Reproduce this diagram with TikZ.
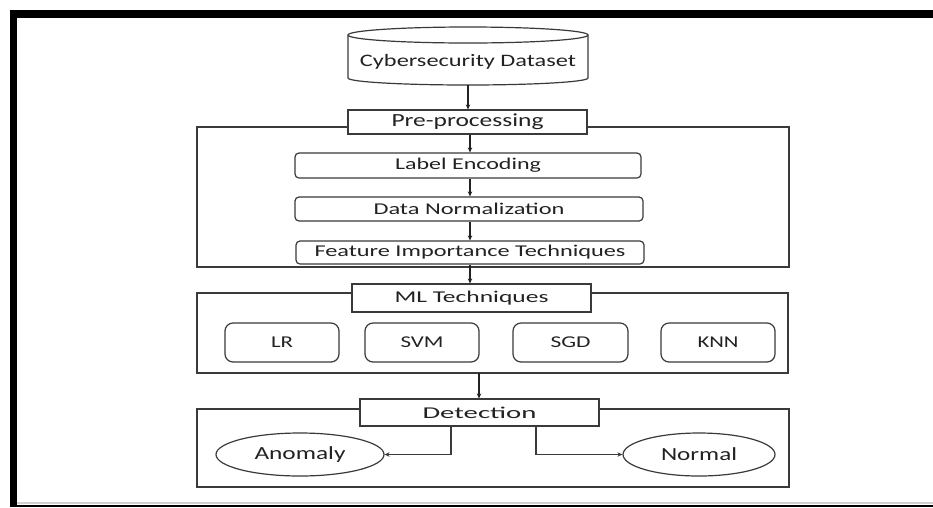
\documentclass[tikz,border=0pt]{standalone}
\usepackage{fontspec}
\setmainfont{Carlito}
\usetikzlibrary{arrows.meta,shapes.geometric}
\definecolor{ink}{HTML}{222222}
\definecolor{edge}{HTML}{3A3A3A}
% stretch a label horizontally to a given width, keeping its height
\newcommand{\fw}[2]{\resizebox{#1}{\height}{#2}}
\begin{document}
\begin{tikzpicture}[x=1pt,y=-1pt,
  box/.style={draw=edge, line width=1.2pt, fill=white, inner sep=0pt, text=ink},
  rbox/.style={box, rounded corners=4pt},
  mbox/.style={box, rounded corners=8pt},
  oval/.style={box, ellipse},
  frame/.style={draw=edge, line width=1.2pt},
  arr/.style={draw=ink, line width=1.1pt, -{Stealth[length=5pt,width=4.5pt]}},
  link/.style={draw=edge, line width=1.1pt, -{Stealth[length=5pt,width=4.5pt]}},
  sz15/.style={font=\fontsize{16.5}{18}\selectfont},
  sz16/.style={font=\fontsize{17.5}{19}\selectfont},
  sz18/.style={font=\fontsize{18.5}{20}\selectfont}]
\useasboundingbox (0,0) rectangle (933,507);
\fill[white] (0,0) rectangle (933,507);

% black page frame
\fill[black] (10,10) rectangle (933,18);
\fill[black] (10,10) rectangle (17,507);
\fill[black] (10,505) rectangle (933,507);
\fill[black!18] (17,502) rectangle (933,504);

% dataset cylinder
\draw[edge, line width=1.2pt] (348,35) -- (348,78)
  arc[start angle=180, end angle=0, x radius=120, y radius=7] -- (588,35);
\draw[edge, line width=1.2pt] (468,35) ellipse[x radius=120, y radius=8];
\node[sz16, text=ink, inner sep=0pt] (ds) at (468,61.5) {\fw{216pt}{Cybersecurity Dataset}};
\coordinate (dsbot) at (468,85);

% pre-processing stage
\draw[frame] (197,127) rectangle (789,267);
\node[box, sz18, minimum width=239pt, minimum height=24pt] (pre) at (467.5,122) {\fw{152pt}{Pre-processing}};
\node[rbox, sz15, minimum width=346pt, minimum height=25pt] (le) at (468,165.5) {\fw{146pt}{Label Encoding}};
\node[rbox, sz15, minimum width=348pt, minimum height=24pt] (dn) at (469,209) {\fw{191pt}{Data Normalization}};
\node[rbox, sz15, minimum width=348pt, minimum height=23pt] (fi) at (470,252.5) {\fw{311pt}{Feature Importance Techniques}};
\coordinate (spine) at (470,0);

% machine learning stage
\draw[frame] (197,293) rectangle (788,373);
\node[box, sz15, minimum width=239pt, minimum height=28pt] (ml) at (471.5,298) {\fw{154pt}{ML Techniques}};
\node[mbox, sz15, minimum width=114pt, minimum height=39pt] (lr) at (282,342.5) {\fw{22pt}{LR}};
\node[mbox, sz15, minimum width=114pt, minimum height=39pt] (svm) at (422,342.5) {\fw{43pt}{SVM}};
\node[mbox, sz15, minimum width=115pt, minimum height=39pt] (sgd) at (570.5,342.5) {\fw{40pt}{SGD}};
\node[mbox, sz15, minimum width=114pt, minimum height=39pt] (knn) at (718,342.5) {\fw{41pt}{KNN}};
\coordinate (mlbot) at (479,373);

% detection stage
\draw[frame] (197,409) rectangle (789,487);
\node[box, sz15, minimum width=239pt, minimum height=27pt] (det) at (479.5,412.5) {\fw{114pt}{Detection}};
\node[oval, sz18, minimum width=168pt, minimum height=43pt] (an) at (300,454.5) {\fw{91pt}{Anomaly}};
\node[oval, sz18, minimum width=152pt, minimum height=43pt] (no) at (699,454.5) {\fw{76pt}{Normal}};
\coordinate (split1) at (451,0);
\coordinate (split2) at (536,0);

% connectors
\draw[arr] (dsbot) -- (pre.north -| dsbot);
\draw[arr] (pre.south -| spine) -- (le.north -| spine);
\draw[arr] (le.south -| spine) -- (dn.north -| spine);
\draw[arr] (dn.south -| spine) -- (fi.north -| spine);
\draw[arr] (fi.south -| spine) -- (ml.north -| spine);
\draw[arr] (mlbot) -- (det.north -| mlbot);
\draw[link] (det.south -| split1) |- (an.east);
\draw[link] (det.south -| split2) |- (no.west);
\end{tikzpicture}
\end{document}
